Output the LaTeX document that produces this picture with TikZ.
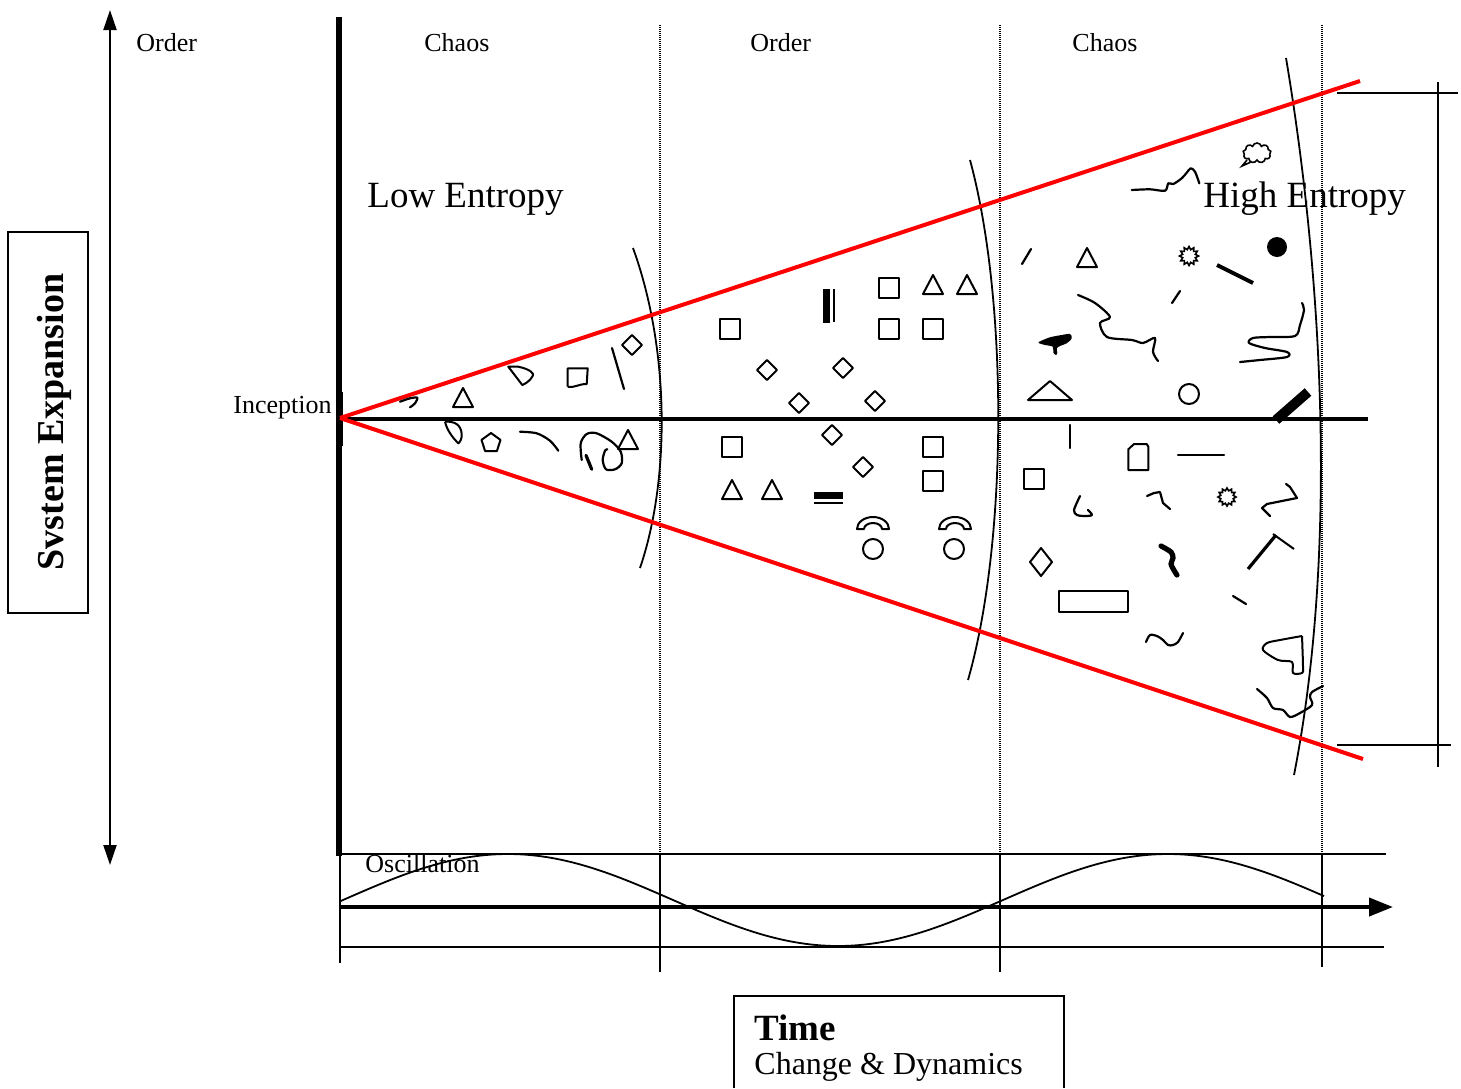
\documentclass[tikz,border=0pt]{standalone}
\usepackage{fontspec}
\setmainfont{Liberation Serif}
\usetikzlibrary{arrows.meta,shapes.geometric,shapes.symbols}
\newcommand{\mysq}[2]{\draw[shp] ({#1-10},{#2-10}) rectangle ({#1+10},{#2+10});}
\newcommand{\mytri}[2]{\draw[shp] (#1,{#2-10}) -- ({#1+10},{#2+9}) -- ({#1-10},{#2+9}) -- cycle;}
\newcommand{\mydia}[2]{\draw[shp] (#1,{#2-10}) -- ({#1+10},#2) -- (#1,{#2+10}) -- ({#1-10},#2) -- cycle;}
\newcommand{\myhalfring}[2]{\draw[shp] ({#1-16},#2) arc[start angle=180,end angle=360,x radius=16,y radius=12] -- ({#1+9},#2) arc[start angle=0,end angle=-180,x radius=9,y radius=6] -- cycle;}
\begin{document}
\begin{tikzpicture}[x=0.5pt,y=-0.5pt,
  lbl/.style={inner sep=0pt, font=\fontsize{13}{15}\selectfont},
  big/.style={inner sep=0pt, font=\fontsize{18.5}{22}\selectfont},
  shp/.style={draw=black, line width=1pt, line join=round},
  scrib/.style={draw=black, line width=1.1pt, line cap=round, line join=round},
  redline/.style={draw=red, line width=2pt},
  dotline/.style={draw=black, line width=0.6pt, dash pattern=on 0.5pt off 0.5pt},
  thinline/.style={draw=black, line width=0.8pt},
  arcline/.style={draw=black, line width=0.9pt},
]
\useasboundingbox (0,0) rectangle (1461,1088);

% ---------- left axis and box ----------
\draw[line width=1pt, {Triangle[length=10pt,width=6.5pt]}-{Triangle[length=10pt,width=6.5pt]}] (110,865) -- (110,10);
\node[lbl, anchor=base west] (ordL) at (136,51) {Order};
\draw[line width=1pt] (8,232) rectangle (88,613);
\node[rotate=90, anchor=base, inner sep=0pt, font=\fontsize{19}{22}\selectfont\bfseries] (sysexp) at (63,422) {Svstem Expansion};

% ---------- column labels ----------
\node[lbl, anchor=base west] (chaos1) at (424,51) {Chaos};
\node[lbl, anchor=base west] (order2) at (750,51) {Order};
\node[lbl, anchor=base west] (chaos2) at (1072,51) {Chaos};

% ---------- dotted separators ----------
\foreach \xx in {660,1000,1322} {\draw[dotline] (\xx,25) -- (\xx,854);}

% ---------- main axes ----------
\draw[line width=2.8pt] (339,17) -- (339,856);
\draw[line width=1pt] (342,392) -- (342,446);
\draw[line width=1.7pt] (339,419) -- (1368,419);
\node[lbl, anchor=base east] (incep) at (332,413) {Inception};

% ---------- boundary arcs ----------
\draw[arcline] (633,248) .. controls (670,350) and (670,480) .. (640,568);
\draw[arcline] (970,160) .. controls (1008,300) and (1008,540) .. (968,680);
\draw[arcline] (1286,58) .. controls (1320,260) and (1340,540) .. (1294,775);

% ---------- red cone ----------
\coordinate (orig) at (340,418);
\coordinate (redtop) at (1360,81);
\coordinate (redbot) at (1363,759);
\draw[redline] (orig) -- (redtop);
\draw[redline] (orig) -- (redbot);

% ---------- entropy labels ----------
\node[big, anchor=base west] (lowent) at (367,207) {Low Entropy};
\node[big, anchor=base west] (highent) at (1203,207) {High Entropy};

% ---------- right bracket ----------
\draw[line width=1pt] (1337,93) -- (1458,93);
\draw[line width=1pt] (1438,82) -- (1438,767);
\draw[line width=1pt] (1337,745) -- (1451,745);

% ---------- zone 1 shapes ----------
\draw[scrib] plot[smooth] coordinates {(400,401.7) (410,398.3) (417.3,397.7) (415,403.3) (410,407.3)};
\mytri{463}{398}
\draw[shp] (508.3,366.7) -- (518.3,366.7) .. controls (530,369) and (535,374) .. (532.7,376) .. controls (530,381) and (525,384) .. (522.3,385) -- cycle;
\draw[shp] (567.7,386.7) -- (567.7,368.3) -- (587.7,368.3) -- (586.7,384) .. controls (578,384) and (575,388) .. (567.7,386.7);
\draw[scrib] (612,348) -- (624,389);
\mydia{632}{345}
\draw[shp] (445,421.7) .. controls (455,421) and (461,425) .. (461.7,434) .. controls (462,439) and (460,442) .. (458.3,443.3) .. controls (452,437) and (447,430) .. (445,421.7);
\draw[shp] (491,433) -- (500.5,439.9) -- (496.9,451.1) -- (485.1,451.1) -- (481.5,439.9) -- cycle;
\draw[scrib] plot[smooth] coordinates {(520,431.7) (536.7,433.3) (550,440.7) (558.3,450.7)};
\draw[scrib] plot[smooth] coordinates {(581.7,460) (580.7,443.3) (586.7,434) (596.7,433.3) (611.7,441.7) (620.7,451.7) (621.7,463.3) (615,469.3) (606,469.3) (602.7,460) (605,450.7) (607.3,449.3)};
\draw[scrib, line width=1.6pt] (586,455.3) -- (591.7,469.3);
\mytri{628}{440}

% ---------- zone 2 shapes ----------
\mysq{730}{329}
\fill (823,289) rectangle (830,323);
\draw[line width=1pt] (833.5,289) -- (833.5,322);
\mysq{889}{288}
\mysq{889}{329}
\mysq{933}{329}
\mytri{933}{285}
\mytri{967}{285}
\mydia{767}{370}
\mydia{843}{368}
\mydia{799}{403}
\mydia{875}{401}
\mydia{832}{435}
\mydia{863}{467}
\mysq{732}{447}
\mysq{933}{447}
\mysq{933}{481}
\mytri{732}{490}
\mytri{772}{490}
\fill (814,492) rectangle (843,499);
\draw[line width=1pt] (814,502.5) -- (843,502.5);
\myhalfring{873}{529}
\myhalfring{955}{529}
\draw[shp] (873,549) circle[radius=10];
\draw[shp] (954,549) circle[radius=10];

% ---------- zone 3 upper ----------
\node[cloud, cloud puffs=9, draw, line width=0.8pt, minimum width=14pt, minimum height=10pt, inner sep=0pt] (cloud1) at (1257,153) {};
\draw[line width=0.8pt] (1247,160) -- (1242,166) -- (1251,162);
\draw[scrib] plot[smooth] coordinates {(1131.7,190) (1150,189.3) (1165,190.7) (1168.3,183.3) (1173.3,184) (1181.7,178.3) (1186.7,172.7) (1190.7,168.3) (1195,171.7) (1199.3,183.3)};
\draw[scrib] (1022,264) -- (1031,249);
\mytri{1087}{258}
\node[star, star points=12, star point ratio=1.45, draw, line width=0.8pt, minimum size=9.5pt, inner sep=0pt] (star1) at (1189,256) {};
\fill (1277,247) circle[radius=10];
\draw[line width=2pt] (1217,265) -- (1253,283);
\draw[scrib] (1172,303) -- (1180,291);
\draw[scrib] plot[smooth] coordinates {(1078,295) (1095,303) (1110,317) (1100,323) (1107,337) (1132,340) (1143,343) (1155,338) (1153,352) (1158,361)};
\fill plot[smooth cycle] coordinates {(1039.3,341.7) (1050,337.3) (1061.7,335) (1070,334) (1071.7,338.3) (1066.7,343.3) (1060,346) (1056.7,348.3) (1057.3,352.7) (1056,355) (1053.3,352.7) (1052.7,346.7) (1045,345) (1039.3,343.3)};
\draw[scrib] plot[smooth] coordinates {(1302,303) (1304,310) (1300,325) (1295,336) (1270,337) (1253,338) (1249,343) (1265,348) (1287,352) (1287,357) (1260,360) (1240,362)};
\draw[shp] (1028,400) -- (1050,381) -- (1072,400) -- cycle;
\draw[shp] (1189,394) circle[radius=10];
\draw[line width=5pt] (1276,420) -- (1308,392);

% ---------- zone 3 lower ----------
\draw[scrib] (1070,425) -- (1070,448);
\mysq{1034}{479}
\draw[shp] (1128.3,470) -- (1128.3,449.3) -- (1134,444) -- (1146.7,444) -- (1148.3,446.7) -- (1148.3,470) -- cycle;
\draw[scrib] (1178,455) -- (1224,455);
\draw[scrib] plot[smooth] coordinates {(1080,496) (1074,510) (1077,515) (1085,516) (1092,515) (1088,510)};
\draw[scrib] plot coordinates {(1147,496) (1154,493) (1160,492) (1163,503) (1170,509)};
\node[star, star points=12, star point ratio=1.4, draw, line width=0.8pt, minimum size=9pt, inner sep=0pt] (star2) at (1227,497) {};
\draw[scrib] plot coordinates {(1286,484) (1290,487) (1297,498) (1267,504) (1262,508) (1270,516)};
\draw[shp] (1041,548) -- (1052,562) -- (1041,576) -- (1030,562) -- cycle;
\draw[line width=2.6pt, line cap=round] plot[smooth] coordinates {(1161,546) (1171,552) (1173,558) (1171,564) (1175,572) (1177,575)};
\draw[line width=1.6pt] (1248,569) -- (1276,535);
\draw[line width=1pt] (1273,534) -- (1294,549);
\draw[scrib] (1233,596) -- (1246,604);
\draw[shp] (1059,591) rectangle (1128,612);
\draw[scrib] plot[smooth] coordinates {(1146,642) (1150,635) (1157,636) (1163,640) (1168,645) (1173,645) (1178,642) (1183,633)};
\draw[shp] plot[smooth] coordinates {(1302,636) (1280,640) (1267,643) (1263,650) (1278,660) (1292,662) (1293,673) (1302,673) (1303,667) (1302,636)};
\draw[scrib] plot[smooth] coordinates {(1257,689) (1267,698) (1273,708) (1283,710) (1290,717) (1300,713) (1312,705) (1310,697) (1312,692) (1323,686)};

% ---------- oscillation panel ----------
\draw[thinline] (340,854) -- (1386,854);
\draw[thinline] (340,947) -- (1384,947);
\draw[line width=0.6pt] (340,854) -- (340,963);
\draw[line width=0.6pt] (660,854) -- (660,972);
\draw[line width=0.6pt] (1000,854) -- (1000,972);
\draw[line width=0.6pt] (1322,854) -- (1322,967);
\draw[line width=2pt, -{Triangle[length=12pt,width=9pt]}] (340,907) -- (1393,907);
\draw[line width=0.9pt] plot[domain=340:1324, samples=120, smooth] (\x, {900-46*cos(((\x-508)/660)*360)});
\node[lbl, anchor=base west] (osc) at (365,872) {Oscillation};

% ---------- time box ----------
\draw[line width=1pt] (734,1088) -- (734,996) -- (1064,996) -- (1064,1088);
\node[inner sep=0pt, anchor=base west, font=\fontsize{18.5}{22}\selectfont\bfseries] (timelbl) at (754,1040) {Time};
\node[inner sep=0pt, anchor=base west, font=\fontsize{16}{19}\selectfont] (changelbl) at (754,1074) {Change \& Dynamics};
\end{tikzpicture}
\end{document}
